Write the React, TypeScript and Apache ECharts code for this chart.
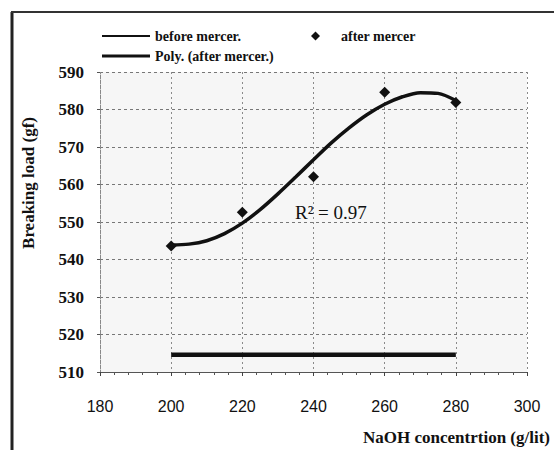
import React, { useEffect, useRef } from "react";
import * as echarts from "echarts";

const xTicks = [180, 200, 220, 240, 260, 280, 300];
const beforeX = [200, 280];
const beforeY = [514.6, 514.6];
const afterX = [200, 220, 240, 260, 280];
const afterY = [543.6, 552.6, 562.1, 584.6, 581.9];
const polyX = [200, 205, 210, 215, 220, 225, 230, 235, 240, 245, 250, 255, 260, 265, 270, 275, 280];
const polyY = [543.9, 544.1, 545.0, 546.9, 549.7, 553.3, 557.5, 562.0, 566.6, 571.1, 575.1, 578.6, 581.4, 583.4, 584.5, 584.3, 582.4];
const rSquared = "R² = 0.97";

export default function App() {
  const ref = useRef<HTMLDivElement>(null);
  useEffect(() => {
    if (!ref.current) return;
    const chart = echarts.init(ref.current, null, { renderer: "svg" });
    const serif = "Liberation Serif";
    const sans = "Liberation Sans";
    const legendText = { fontFamily: serif, fontWeight: "bold", fontSize: 14, color: "#111" };
    chart.setOption({
      animation: false,
      backgroundColor: "#ffffff",
      grid: {
        left: 100,
        right: 27,
        top: 72,
        bottom: 78,
        show: true,
        backgroundColor: "#f6f6f6",
        borderWidth: 0,
      },
      legend: [
        {
          data: [{ name: "before mercer.", icon: "rect" }],
          left: 97,
          top: 24,
          itemWidth: 48,
          itemHeight: 2,
          itemGap: 0,
          textStyle: legendText,
        },
        {
          data: [{ name: "after mercer", icon: "diamond" }],
          left: 306,
          top: 24,
          itemWidth: 9,
          itemHeight: 9,
          textStyle: { ...legendText, padding: [0, 0, 0, 16] },
        },
        {
          data: [{ name: "Poly. (after mercer.)", icon: "rect" }],
          left: 97,
          top: 44,
          itemWidth: 48,
          itemHeight: 3,
          textStyle: legendText,
        },
      ],
      xAxis: {
        type: "value",
        min: xTicks[0],
        max: xTicks[xTicks.length - 1],
        interval: 20,
        axisLine: { show: true, onZero: false, lineStyle: { color: "#555", width: 1 } },
        axisTick: { show: true, inside: false, length: 4, lineStyle: { color: "#444" } },
        minorTick: { show: true, splitNumber: 5, length: 3, lineStyle: { color: "#555" } },
        axisLabel: { fontFamily: sans, fontSize: 16, color: "#111", margin: 26 },
        splitLine: { show: true, lineStyle: { color: "#8a8a8a", type: [2, 3], width: 1 } },
      },
      yAxis: {
        type: "value",
        min: 510,
        max: 590,
        interval: 10,
        axisLine: { show: true, lineStyle: { color: "#888", type: [2, 3], width: 1 } },
        axisTick: { show: true, length: 3, lineStyle: { color: "#555" } },
        axisLabel: { fontFamily: serif, fontWeight: "bold", fontSize: 17, color: "#111", margin: 16 },
        splitLine: { show: true, lineStyle: { color: "#777", type: [3, 3], width: 1 } },
      },
      series: [
        {
          name: "before mercer.",
          type: "line",
          data: beforeX.map((x, i) => [x, beforeY[i]]),
          symbol: "none",
          lineStyle: { color: "#111", width: 4.5 },
          itemStyle: { color: "#111" },
          z: 3,
        },
        {
          name: "Poly. (after mercer.)",
          type: "line",
          data: polyX.map((x, i) => [x, polyY[i]]),
          smooth: 0.3,
          symbol: "none",
          lineStyle: { color: "#111", width: 3.5 },
          itemStyle: { color: "#111" },
          z: 3,
        },
        {
          name: "after mercer",
          type: "scatter",
          data: afterX.map((x, i) => [x, afterY[i]]),
          symbol: "diamond",
          symbolSize: 11,
          itemStyle: { color: "#111", opacity: 1 },
          z: 4,
        },
      ],
      graphic: [
        {
          type: "line",
          shape: { x1: 12, y1: 12, x2: 12, y2: 450 },
          style: { stroke: "#222", lineWidth: 3 },
        },
        {
          type: "line",
          shape: { x1: 11, y1: 12, x2: 554, y2: 12 },
          style: { stroke: "#333", lineWidth: 2 },
        },
        {
          type: "text",
          x: 28,
          y: 183,
          rotation: Math.PI / 2,
          style: {
            text: "Breaking load (gf)",
            fontFamily: serif,
            fontWeight: "bold",
            fontSize: 17,
            fill: "#111",
            textAlign: "center",
            textVerticalAlign: "middle",
          },
        },
        {
          type: "text",
          x: 550,
          y: 437,
          style: {
            text: "NaOH concentrtion (g/lit)",
            fontFamily: serif,
            fontWeight: "bold",
            fontSize: 17,
            fill: "#111",
            textAlign: "right",
            textVerticalAlign: "middle",
          },
        },
        {
          type: "text",
          x: 295,
          y: 212,
          style: {
            text: rSquared,
            fontFamily: serif,
            fontSize: 19,
            fill: "#111",
            textAlign: "left",
            textVerticalAlign: "middle",
          },
          z: 10,
        },
      ],
    });
    return () => chart.dispose();
  }, []);
  return (
    <div
      ref={ref}
      style={{ position: "absolute", left: 0, top: 0, width: 554, height: 450 }}
    />
  );
}
